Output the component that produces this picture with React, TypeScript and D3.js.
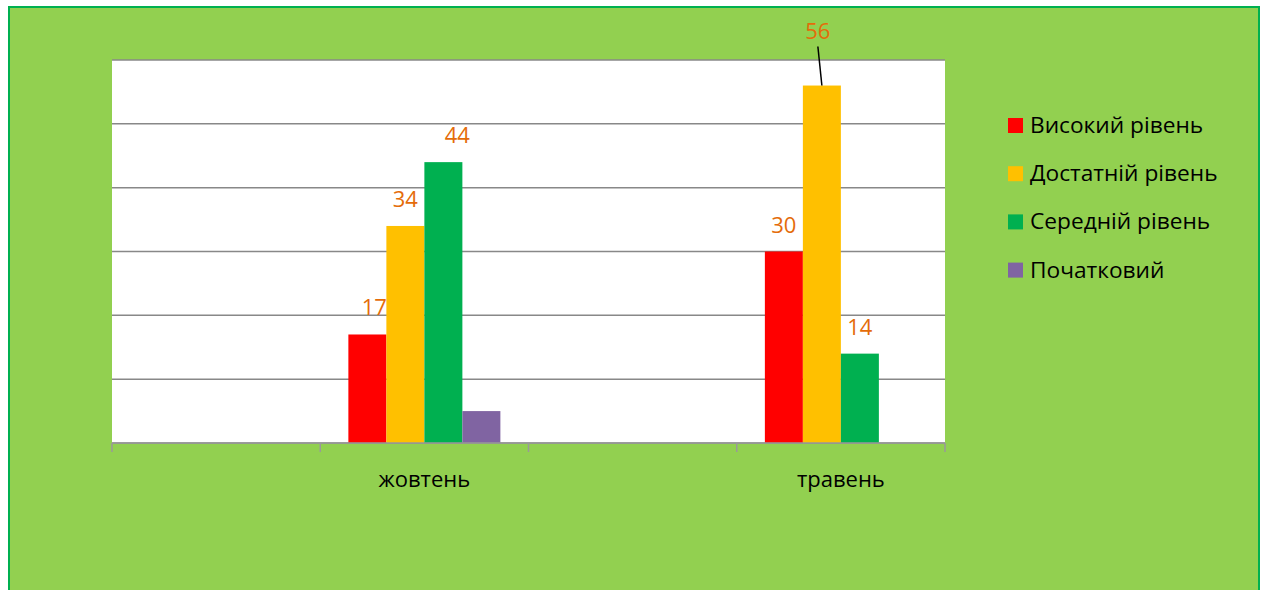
import React from "react";
import * as d3 from "d3";

const categories = ["", "жовтень", "", "травень"];
const seriesNames = ["Високий рівень", "Достатній рівень", "Середній рівень", "Початковий"];
const seriesColors = ["#FF0000", "#FFC000", "#00B050", "#8064A2"];
const values: number[][] = [
  [0, 17, 0, 30],
  [0, 34, 0, 56],
  [0, 44, 0, 14],
  [0, 5, 0, 0],
];
const showLabel = [true, true, true, false];
const yTicks = [0, 10, 20, 30, 40, 50, 60];

const W = 1262, H = 590;
const plot = { left: 112, right: 945, top: 60, bottom: 443 };
const font = "'Open Sans', 'DejaVu Sans', sans-serif";
const labelColor = "#E46C0A";

// per-label manual offsets (dx, dy, leader line) as in the source chart
const labelOffsets: Record<string, [number, number, boolean?]> = {
  "0-1": [7, 0],
  "2-1": [14, 0],
  "1-3": [-4, -28, true],
};

export default function App() {
  const x = d3.scaleBand<string>().domain(categories.map((_, i) => String(i))).range([plot.left, plot.right]).padding(0);
  const xs = d3.scaleBand<string>().domain(seriesNames).range([0, x.bandwidth()]).paddingInner(0).paddingOuter(0.74);
  const y = d3.scaleLinear().domain([0, 60]).range([plot.bottom, plot.top]);

  return (
    <svg width={W} height={H} style={{ position: "absolute", left: 0, top: 0 }}>
      <rect x={9} y={7} width={1250} height={600} fill="#92D050" stroke="#00B050" strokeWidth={2} />
      <rect x={plot.left} y={plot.top} width={plot.right - plot.left} height={plot.bottom - plot.top} fill="#FFFFFF" />
      {yTicks.map((t) => (
        <line key={t} x1={plot.left} x2={plot.right} y1={y(t)} y2={y(t)} stroke="#888888" strokeWidth={1.5} />
      ))}
      {seriesNames.map((s, si) =>
        categories.map((c, ci) => {
          const v = values[si][ci];
          if (!v) return null;
          const bx = (x(String(ci)) as number) + (xs(s) as number);
          return <rect key={s + ci} x={bx} y={y(v)} width={xs.bandwidth()} height={y(0) - y(v)} fill={seriesColors[si]} />;
        })
      )}
      <line x1={plot.left} x2={plot.right} y1={plot.bottom} y2={plot.bottom} stroke="#999999" strokeWidth={1.5} />
      {d3.range(categories.length + 1).map((i) => {
        const tx = plot.left + i * x.bandwidth();
        return <line key={i} x1={tx} x2={tx} y1={plot.bottom} y2={plot.bottom + 9} stroke="#999999" strokeWidth={1.5} />;
      })}
      {categories.map((c, ci) => (
        <text key={ci} x={(x(String(ci)) as number) + x.bandwidth() / 2} y={487} textAnchor="middle" fontFamily={font} fontSize={22} fill="#000">
          {c}
        </text>
      ))}
      {seriesNames.map((s, si) =>
        categories.map((c, ci) => {
          const v = values[si][ci];
          if (!v || !showLabel[si]) return null;
          const cx = (x(String(ci)) as number) + (xs(s) as number) + xs.bandwidth() / 2;
          const off = labelOffsets[si + "-" + ci] || [0, 0];
          const lx = cx + off[0];
          const ly = y(v) - 19 + off[1];
          return (
            <g key={"l" + s + ci}>
              {off[2] ? <line x1={lx} y1={ly + 8} x2={cx} y2={y(v)} stroke="#000" strokeWidth={1.5} /> : null}
              <text x={lx} y={ly} textAnchor="middle" fontFamily={font} fontSize={22} fill={labelColor}>
                {v}
              </text>
            </g>
          );
        })
      )}
      {seriesNames.map((s, si) => (
        <g key={"lg" + s} transform={`translate(1008, ${118 + si * 48.2})`}>
          <rect x={0} y={0} width={15} height={15} fill={seriesColors[si]} />
          <text x={22} y={15} fontFamily={font} fontSize={22.7} fill="#000">
            {s}
          </text>
        </g>
      ))}
    </svg>
  );
}
